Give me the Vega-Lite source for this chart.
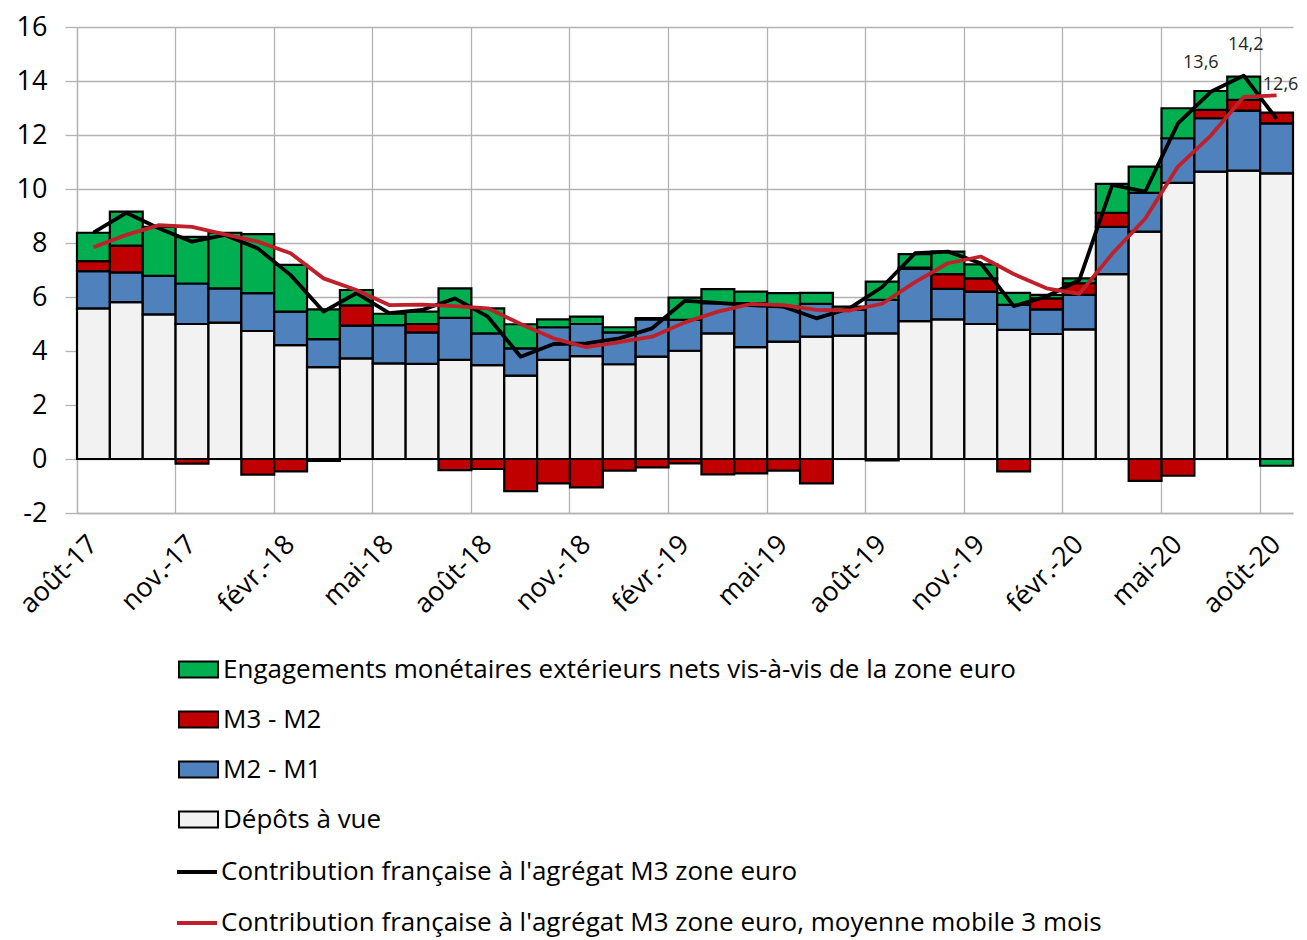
{
  "$schema": "https://vega.github.io/schema/vega-lite/v6.json",
  "width": 1216,
  "height": 486,
  "autosize": {"type": "none"},
  "padding": {"left": 77, "top": 27, "right": 14, "bottom": 427},
  "background": "white",
  "config": {
    "font": "Open Sans",
    "view": {"stroke": null},
    "axis": {"labelFont": "Open Sans", "labelColor": "black", "title": null}
  },
  "datasets": {
    "barres": [
      {"mois": "août-17", "serie": "Dépôts à vue", "valeur": 5.58},
      {"mois": "août-17", "serie": "M2 - M1", "valeur": 1.38},
      {"mois": "août-17", "serie": "M3 - M2", "valeur": 0.37},
      {"mois": "août-17", "serie": "Engagements monétaires extérieurs nets vis-à-vis de la zone euro", "valeur": 1.05},
      {"mois": "sept.-17", "serie": "Dépôts à vue", "valeur": 5.81},
      {"mois": "sept.-17", "serie": "M2 - M1", "valeur": 1.1},
      {"mois": "sept.-17", "serie": "M3 - M2", "valeur": 0.99},
      {"mois": "sept.-17", "serie": "Engagements monétaires extérieurs nets vis-à-vis de la zone euro", "valeur": 1.26},
      {"mois": "oct.-17", "serie": "Dépôts à vue", "valeur": 5.36},
      {"mois": "oct.-17", "serie": "M2 - M1", "valeur": 1.42},
      {"mois": "oct.-17", "serie": "Engagements monétaires extérieurs nets vis-à-vis de la zone euro", "valeur": 1.82},
      {"mois": "nov.-17", "serie": "Dépôts à vue", "valeur": 5.0},
      {"mois": "nov.-17", "serie": "M2 - M1", "valeur": 1.5},
      {"mois": "nov.-17", "serie": "M3 - M2", "valeur": -0.17},
      {"mois": "nov.-17", "serie": "Engagements monétaires extérieurs nets vis-à-vis de la zone euro", "valeur": 1.73},
      {"mois": "déc.-17", "serie": "Dépôts à vue", "valeur": 5.05},
      {"mois": "déc.-17", "serie": "M2 - M1", "valeur": 1.27},
      {"mois": "déc.-17", "serie": "Engagements monétaires extérieurs nets vis-à-vis de la zone euro", "valeur": 2.06},
      {"mois": "janv.-18", "serie": "Dépôts à vue", "valeur": 4.74},
      {"mois": "janv.-18", "serie": "M2 - M1", "valeur": 1.4},
      {"mois": "janv.-18", "serie": "M3 - M2", "valeur": -0.58},
      {"mois": "janv.-18", "serie": "Engagements monétaires extérieurs nets vis-à-vis de la zone euro", "valeur": 2.19},
      {"mois": "févr.-18", "serie": "Dépôts à vue", "valeur": 4.22},
      {"mois": "févr.-18", "serie": "M2 - M1", "valeur": 1.24},
      {"mois": "févr.-18", "serie": "M3 - M2", "valeur": -0.46},
      {"mois": "févr.-18", "serie": "Engagements monétaires extérieurs nets vis-à-vis de la zone euro", "valeur": 1.73},
      {"mois": "mars-18", "serie": "Dépôts à vue", "valeur": 3.4},
      {"mois": "mars-18", "serie": "M2 - M1", "valeur": 1.04},
      {"mois": "mars-18", "serie": "M3 - M2", "valeur": -0.07},
      {"mois": "mars-18", "serie": "Engagements monétaires extérieurs nets vis-à-vis de la zone euro", "valeur": 1.1},
      {"mois": "avr.-18", "serie": "Dépôts à vue", "valeur": 3.73},
      {"mois": "avr.-18", "serie": "M2 - M1", "valeur": 1.21},
      {"mois": "avr.-18", "serie": "M3 - M2", "valeur": 0.75},
      {"mois": "avr.-18", "serie": "Engagements monétaires extérieurs nets vis-à-vis de la zone euro", "valeur": 0.57},
      {"mois": "mai-18", "serie": "Dépôts à vue", "valeur": 3.54},
      {"mois": "mai-18", "serie": "M2 - M1", "valeur": 1.42},
      {"mois": "mai-18", "serie": "Engagements monétaires extérieurs nets vis-à-vis de la zone euro", "valeur": 0.42},
      {"mois": "juin-18", "serie": "Dépôts à vue", "valeur": 3.52},
      {"mois": "juin-18", "serie": "M2 - M1", "valeur": 1.17},
      {"mois": "juin-18", "serie": "M3 - M2", "valeur": 0.31},
      {"mois": "juin-18", "serie": "Engagements monétaires extérieurs nets vis-à-vis de la zone euro", "valeur": 0.46},
      {"mois": "juil.-18", "serie": "Dépôts à vue", "valeur": 3.67},
      {"mois": "juil.-18", "serie": "M2 - M1", "valeur": 1.56},
      {"mois": "juil.-18", "serie": "M3 - M2", "valeur": -0.41},
      {"mois": "juil.-18", "serie": "Engagements monétaires extérieurs nets vis-à-vis de la zone euro", "valeur": 1.09},
      {"mois": "août-18", "serie": "Dépôts à vue", "valeur": 3.48},
      {"mois": "août-18", "serie": "M2 - M1", "valeur": 1.17},
      {"mois": "août-18", "serie": "M3 - M2", "valeur": -0.37},
      {"mois": "août-18", "serie": "Engagements monétaires extérieurs nets vis-à-vis de la zone euro", "valeur": 0.93},
      {"mois": "sept.-18", "serie": "Dépôts à vue", "valeur": 3.09},
      {"mois": "sept.-18", "serie": "M2 - M1", "valeur": 1.01},
      {"mois": "sept.-18", "serie": "M3 - M2", "valeur": -1.19},
      {"mois": "sept.-18", "serie": "Engagements monétaires extérieurs nets vis-à-vis de la zone euro", "valeur": 0.89},
      {"mois": "oct.-18", "serie": "Dépôts à vue", "valeur": 3.67},
      {"mois": "oct.-18", "serie": "M2 - M1", "valeur": 1.21},
      {"mois": "oct.-18", "serie": "M3 - M2", "valeur": -0.9},
      {"mois": "oct.-18", "serie": "Engagements monétaires extérieurs nets vis-à-vis de la zone euro", "valeur": 0.29},
      {"mois": "nov.-18", "serie": "Dépôts à vue", "valeur": 3.81},
      {"mois": "nov.-18", "serie": "M2 - M1", "valeur": 1.19},
      {"mois": "nov.-18", "serie": "M3 - M2", "valeur": -1.05},
      {"mois": "nov.-18", "serie": "Engagements monétaires extérieurs nets vis-à-vis de la zone euro", "valeur": 0.27},
      {"mois": "déc.-18", "serie": "Dépôts à vue", "valeur": 3.51},
      {"mois": "déc.-18", "serie": "M2 - M1", "valeur": 1.18},
      {"mois": "déc.-18", "serie": "M3 - M2", "valeur": -0.43},
      {"mois": "déc.-18", "serie": "Engagements monétaires extérieurs nets vis-à-vis de la zone euro", "valeur": 0.19},
      {"mois": "janv.-19", "serie": "Dépôts à vue", "valeur": 3.79},
      {"mois": "janv.-19", "serie": "M2 - M1", "valeur": 1.38},
      {"mois": "janv.-19", "serie": "M3 - M2", "valeur": -0.31},
      {"mois": "janv.-19", "serie": "Engagements monétaires extérieurs nets vis-à-vis de la zone euro", "valeur": 0.05},
      {"mois": "févr.-19", "serie": "Dépôts à vue", "valeur": 4.01},
      {"mois": "févr.-19", "serie": "M2 - M1", "valeur": 1.14},
      {"mois": "févr.-19", "serie": "M3 - M2", "valeur": -0.16},
      {"mois": "févr.-19", "serie": "Engagements monétaires extérieurs nets vis-à-vis de la zone euro", "valeur": 0.83},
      {"mois": "mars-19", "serie": "Dépôts à vue", "valeur": 4.65},
      {"mois": "mars-19", "serie": "M2 - M1", "valeur": 1.12},
      {"mois": "mars-19", "serie": "M3 - M2", "valeur": -0.57},
      {"mois": "mars-19", "serie": "Engagements monétaires extérieurs nets vis-à-vis de la zone euro", "valeur": 0.52},
      {"mois": "avr.-19", "serie": "Dépôts à vue", "valeur": 4.14},
      {"mois": "avr.-19", "serie": "M2 - M1", "valeur": 1.63},
      {"mois": "avr.-19", "serie": "M3 - M2", "valeur": -0.53},
      {"mois": "avr.-19", "serie": "Engagements monétaires extérieurs nets vis-à-vis de la zone euro", "valeur": 0.43},
      {"mois": "mai-19", "serie": "Dépôts à vue", "valeur": 4.35},
      {"mois": "mai-19", "serie": "M2 - M1", "valeur": 1.29},
      {"mois": "mai-19", "serie": "M3 - M2", "valeur": -0.43},
      {"mois": "mai-19", "serie": "Engagements monétaires extérieurs nets vis-à-vis de la zone euro", "valeur": 0.5},
      {"mois": "juin-19", "serie": "Dépôts à vue", "valeur": 4.53},
      {"mois": "juin-19", "serie": "M2 - M1", "valeur": 1.22},
      {"mois": "juin-19", "serie": "M3 - M2", "valeur": -0.9},
      {"mois": "juin-19", "serie": "Engagements monétaires extérieurs nets vis-à-vis de la zone euro", "valeur": 0.4},
      {"mois": "juil.-19", "serie": "Dépôts à vue", "valeur": 4.57},
      {"mois": "juil.-19", "serie": "M2 - M1", "valeur": 0.95},
      {"mois": "juil.-19", "serie": "Engagements monétaires extérieurs nets vis-à-vis de la zone euro", "valeur": 0.12},
      {"mois": "août-19", "serie": "Dépôts à vue", "valeur": 4.65},
      {"mois": "août-19", "serie": "M2 - M1", "valeur": 1.24},
      {"mois": "août-19", "serie": "M3 - M2", "valeur": -0.05},
      {"mois": "août-19", "serie": "Engagements monétaires extérieurs nets vis-à-vis de la zone euro", "valeur": 0.68},
      {"mois": "sept.-19", "serie": "Dépôts à vue", "valeur": 5.11},
      {"mois": "sept.-19", "serie": "M2 - M1", "valeur": 1.93},
      {"mois": "sept.-19", "serie": "M3 - M2", "valeur": 0.05},
      {"mois": "sept.-19", "serie": "Engagements monétaires extérieurs nets vis-à-vis de la zone euro", "valeur": 0.5},
      {"mois": "oct.-19", "serie": "Dépôts à vue", "valeur": 5.17},
      {"mois": "oct.-19", "serie": "M2 - M1", "valeur": 1.13},
      {"mois": "oct.-19", "serie": "M3 - M2", "valeur": 0.55},
      {"mois": "oct.-19", "serie": "Engagements monétaires extérieurs nets vis-à-vis de la zone euro", "valeur": 0.83},
      {"mois": "nov.-19", "serie": "Dépôts à vue", "valeur": 5.0},
      {"mois": "nov.-19", "serie": "M2 - M1", "valeur": 1.2},
      {"mois": "nov.-19", "serie": "M3 - M2", "valeur": 0.49},
      {"mois": "nov.-19", "serie": "Engagements monétaires extérieurs nets vis-à-vis de la zone euro", "valeur": 0.52},
      {"mois": "déc.-19", "serie": "Dépôts à vue", "valeur": 4.78},
      {"mois": "déc.-19", "serie": "M2 - M1", "valeur": 0.93},
      {"mois": "déc.-19", "serie": "M3 - M2", "valeur": -0.46},
      {"mois": "déc.-19", "serie": "Engagements monétaires extérieurs nets vis-à-vis de la zone euro", "valeur": 0.44},
      {"mois": "janv.-20", "serie": "Dépôts à vue", "valeur": 4.63},
      {"mois": "janv.-20", "serie": "M2 - M1", "valeur": 0.91},
      {"mois": "janv.-20", "serie": "M3 - M2", "valeur": 0.41},
      {"mois": "janv.-20", "serie": "Engagements monétaires extérieurs nets vis-à-vis de la zone euro", "valeur": 0.13},
      {"mois": "févr.-20", "serie": "Dépôts à vue", "valeur": 4.8},
      {"mois": "févr.-20", "serie": "M2 - M1", "valeur": 1.28},
      {"mois": "févr.-20", "serie": "M3 - M2", "valeur": 0.43},
      {"mois": "févr.-20", "serie": "Engagements monétaires extérieurs nets vis-à-vis de la zone euro", "valeur": 0.18},
      {"mois": "mars-20", "serie": "Dépôts à vue", "valeur": 6.85},
      {"mois": "mars-20", "serie": "M2 - M1", "valeur": 1.75},
      {"mois": "mars-20", "serie": "M3 - M2", "valeur": 0.52},
      {"mois": "mars-20", "serie": "Engagements monétaires extérieurs nets vis-à-vis de la zone euro", "valeur": 1.07},
      {"mois": "avr.-20", "serie": "Dépôts à vue", "valeur": 8.42},
      {"mois": "avr.-20", "serie": "M2 - M1", "valeur": 1.44},
      {"mois": "avr.-20", "serie": "M3 - M2", "valeur": -0.81},
      {"mois": "avr.-20", "serie": "Engagements monétaires extérieurs nets vis-à-vis de la zone euro", "valeur": 0.97},
      {"mois": "mai-20", "serie": "Dépôts à vue", "valeur": 10.23},
      {"mois": "mai-20", "serie": "M2 - M1", "valeur": 1.65},
      {"mois": "mai-20", "serie": "M3 - M2", "valeur": -0.62},
      {"mois": "mai-20", "serie": "Engagements monétaires extérieurs nets vis-à-vis de la zone euro", "valeur": 1.11},
      {"mois": "juin-20", "serie": "Dépôts à vue", "valeur": 10.64},
      {"mois": "juin-20", "serie": "M2 - M1", "valeur": 1.98},
      {"mois": "juin-20", "serie": "M3 - M2", "valeur": 0.31},
      {"mois": "juin-20", "serie": "Engagements monétaires extérieurs nets vis-à-vis de la zone euro", "valeur": 0.7},
      {"mois": "juil.-20", "serie": "Dépôts à vue", "valeur": 10.68},
      {"mois": "juil.-20", "serie": "M2 - M1", "valeur": 2.22},
      {"mois": "juil.-20", "serie": "M3 - M2", "valeur": 0.4},
      {"mois": "juil.-20", "serie": "Engagements monétaires extérieurs nets vis-à-vis de la zone euro", "valeur": 0.86},
      {"mois": "août-20", "serie": "Dépôts à vue", "valeur": 10.58},
      {"mois": "août-20", "serie": "M2 - M1", "valeur": 1.85},
      {"mois": "août-20", "serie": "M3 - M2", "valeur": 0.4},
      {"mois": "août-20", "serie": "Engagements monétaires extérieurs nets vis-à-vis de la zone euro", "valeur": -0.25}
    ],
    "lignes": [
      {"mois": "août-17", "serie": "Contribution française à l'agrégat M3 zone euro", "valeur": 8.38},
      {"mois": "sept.-17", "serie": "Contribution française à l'agrégat M3 zone euro", "valeur": 9.12},
      {"mois": "oct.-17", "serie": "Contribution française à l'agrégat M3 zone euro", "valeur": 8.54},
      {"mois": "nov.-17", "serie": "Contribution française à l'agrégat M3 zone euro", "valeur": 8.05},
      {"mois": "déc.-17", "serie": "Contribution française à l'agrégat M3 zone euro", "valeur": 8.3},
      {"mois": "janv.-18", "serie": "Contribution française à l'agrégat M3 zone euro", "valeur": 7.8},
      {"mois": "févr.-18", "serie": "Contribution française à l'agrégat M3 zone euro", "valeur": 6.81},
      {"mois": "mars-18", "serie": "Contribution française à l'agrégat M3 zone euro", "valeur": 5.46},
      {"mois": "avr.-18", "serie": "Contribution française à l'agrégat M3 zone euro", "valeur": 6.14},
      {"mois": "mai-18", "serie": "Contribution française à l'agrégat M3 zone euro", "valeur": 5.4},
      {"mois": "juin-18", "serie": "Contribution française à l'agrégat M3 zone euro", "valeur": 5.52},
      {"mois": "juil.-18", "serie": "Contribution française à l'agrégat M3 zone euro", "valeur": 5.95},
      {"mois": "août-18", "serie": "Contribution française à l'agrégat M3 zone euro", "valeur": 5.27},
      {"mois": "sept.-18", "serie": "Contribution française à l'agrégat M3 zone euro", "valeur": 3.79},
      {"mois": "oct.-18", "serie": "Contribution française à l'agrégat M3 zone euro", "valeur": 4.26},
      {"mois": "nov.-18", "serie": "Contribution française à l'agrégat M3 zone euro", "valeur": 4.28},
      {"mois": "déc.-18", "serie": "Contribution française à l'agrégat M3 zone euro", "valeur": 4.47},
      {"mois": "janv.-19", "serie": "Contribution française à l'agrégat M3 zone euro", "valeur": 4.84},
      {"mois": "févr.-19", "serie": "Contribution française à l'agrégat M3 zone euro", "valeur": 5.86},
      {"mois": "mars-19", "serie": "Contribution française à l'agrégat M3 zone euro", "valeur": 5.78},
      {"mois": "avr.-19", "serie": "Contribution française à l'agrégat M3 zone euro", "valeur": 5.7},
      {"mois": "mai-19", "serie": "Contribution française à l'agrégat M3 zone euro", "valeur": 5.64},
      {"mois": "juin-19", "serie": "Contribution française à l'agrégat M3 zone euro", "valeur": 5.21},
      {"mois": "juil.-19", "serie": "Contribution française à l'agrégat M3 zone euro", "valeur": 5.58},
      {"mois": "août-19", "serie": "Contribution française à l'agrégat M3 zone euro", "valeur": 6.37},
      {"mois": "sept.-19", "serie": "Contribution française à l'agrégat M3 zone euro", "valeur": 7.62},
      {"mois": "oct.-19", "serie": "Contribution française à l'agrégat M3 zone euro", "valeur": 7.68},
      {"mois": "nov.-19", "serie": "Contribution française à l'agrégat M3 zone euro", "valeur": 7.25},
      {"mois": "déc.-19", "serie": "Contribution française à l'agrégat M3 zone euro", "valeur": 5.66},
      {"mois": "janv.-20", "serie": "Contribution française à l'agrégat M3 zone euro", "valeur": 6.02},
      {"mois": "févr.-20", "serie": "Contribution française à l'agrégat M3 zone euro", "valeur": 6.63},
      {"mois": "mars-20", "serie": "Contribution française à l'agrégat M3 zone euro", "valeur": 10.15},
      {"mois": "avr.-20", "serie": "Contribution française à l'agrégat M3 zone euro", "valeur": 9.9},
      {"mois": "mai-20", "serie": "Contribution française à l'agrégat M3 zone euro", "valeur": 12.43},
      {"mois": "juin-20", "serie": "Contribution française à l'agrégat M3 zone euro", "valeur": 13.6, "etiquette": "13,6"},
      {"mois": "juil.-20", "serie": "Contribution française à l'agrégat M3 zone euro", "valeur": 14.2, "etiquette": "14,2"},
      {"mois": "août-20", "serie": "Contribution française à l'agrégat M3 zone euro", "valeur": 12.6, "etiquette": "12,6"},
      {"mois": "août-17", "serie": "Contribution française à l'agrégat M3 zone euro, moyenne mobile 3 mois", "valeur": 7.84},
      {"mois": "sept.-17", "serie": "Contribution française à l'agrégat M3 zone euro, moyenne mobile 3 mois", "valeur": 8.3},
      {"mois": "oct.-17", "serie": "Contribution française à l'agrégat M3 zone euro, moyenne mobile 3 mois", "valeur": 8.66},
      {"mois": "nov.-17", "serie": "Contribution française à l'agrégat M3 zone euro, moyenne mobile 3 mois", "valeur": 8.6},
      {"mois": "déc.-17", "serie": "Contribution française à l'agrégat M3 zone euro, moyenne mobile 3 mois", "valeur": 8.32},
      {"mois": "janv.-18", "serie": "Contribution française à l'agrégat M3 zone euro, moyenne mobile 3 mois", "valeur": 8.05},
      {"mois": "févr.-18", "serie": "Contribution française à l'agrégat M3 zone euro, moyenne mobile 3 mois", "valeur": 7.62},
      {"mois": "mars-18", "serie": "Contribution française à l'agrégat M3 zone euro, moyenne mobile 3 mois", "valeur": 6.69},
      {"mois": "avr.-18", "serie": "Contribution française à l'agrégat M3 zone euro, moyenne mobile 3 mois", "valeur": 6.26},
      {"mois": "mai-18", "serie": "Contribution française à l'agrégat M3 zone euro, moyenne mobile 3 mois", "valeur": 5.7},
      {"mois": "juin-18", "serie": "Contribution française à l'agrégat M3 zone euro, moyenne mobile 3 mois", "valeur": 5.72},
      {"mois": "juil.-18", "serie": "Contribution française à l'agrégat M3 zone euro, moyenne mobile 3 mois", "valeur": 5.66},
      {"mois": "août-18", "serie": "Contribution française à l'agrégat M3 zone euro, moyenne mobile 3 mois", "valeur": 5.58},
      {"mois": "sept.-18", "serie": "Contribution française à l'agrégat M3 zone euro, moyenne mobile 3 mois", "valeur": 5.0},
      {"mois": "oct.-18", "serie": "Contribution française à l'agrégat M3 zone euro, moyenne mobile 3 mois", "valeur": 4.47},
      {"mois": "nov.-18", "serie": "Contribution française à l'agrégat M3 zone euro, moyenne mobile 3 mois", "valeur": 4.14},
      {"mois": "déc.-18", "serie": "Contribution française à l'agrégat M3 zone euro, moyenne mobile 3 mois", "valeur": 4.33},
      {"mois": "janv.-19", "serie": "Contribution française à l'agrégat M3 zone euro, moyenne mobile 3 mois", "valeur": 4.53},
      {"mois": "févr.-19", "serie": "Contribution française à l'agrégat M3 zone euro, moyenne mobile 3 mois", "valeur": 5.06},
      {"mois": "mars-19", "serie": "Contribution française à l'agrégat M3 zone euro, moyenne mobile 3 mois", "valeur": 5.46},
      {"mois": "avr.-19", "serie": "Contribution française à l'agrégat M3 zone euro, moyenne mobile 3 mois", "valeur": 5.74},
      {"mois": "mai-19", "serie": "Contribution française à l'agrégat M3 zone euro, moyenne mobile 3 mois", "valeur": 5.7},
      {"mois": "juin-19", "serie": "Contribution française à l'agrégat M3 zone euro, moyenne mobile 3 mois", "valeur": 5.52},
      {"mois": "juil.-19", "serie": "Contribution française à l'agrégat M3 zone euro, moyenne mobile 3 mois", "valeur": 5.5},
      {"mois": "août-19", "serie": "Contribution française à l'agrégat M3 zone euro, moyenne mobile 3 mois", "valeur": 5.75},
      {"mois": "sept.-19", "serie": "Contribution française à l'agrégat M3 zone euro, moyenne mobile 3 mois", "valeur": 6.55},
      {"mois": "oct.-19", "serie": "Contribution française à l'agrégat M3 zone euro, moyenne mobile 3 mois", "valeur": 7.25},
      {"mois": "nov.-19", "serie": "Contribution française à l'agrégat M3 zone euro, moyenne mobile 3 mois", "valeur": 7.5},
      {"mois": "déc.-19", "serie": "Contribution française à l'agrégat M3 zone euro, moyenne mobile 3 mois", "valeur": 6.85},
      {"mois": "janv.-20", "serie": "Contribution française à l'agrégat M3 zone euro, moyenne mobile 3 mois", "valeur": 6.32},
      {"mois": "févr.-20", "serie": "Contribution française à l'agrégat M3 zone euro, moyenne mobile 3 mois", "valeur": 6.12},
      {"mois": "mars-20", "serie": "Contribution française à l'agrégat M3 zone euro, moyenne mobile 3 mois", "valeur": 7.6},
      {"mois": "avr.-20", "serie": "Contribution française à l'agrégat M3 zone euro, moyenne mobile 3 mois", "valeur": 8.9},
      {"mois": "mai-20", "serie": "Contribution française à l'agrégat M3 zone euro, moyenne mobile 3 mois", "valeur": 10.83},
      {"mois": "juin-20", "serie": "Contribution française à l'agrégat M3 zone euro, moyenne mobile 3 mois", "valeur": 11.98},
      {"mois": "juil.-20", "serie": "Contribution française à l'agrégat M3 zone euro, moyenne mobile 3 mois", "valeur": 13.41},
      {"mois": "août-20", "serie": "Contribution française à l'agrégat M3 zone euro, moyenne mobile 3 mois", "valeur": 13.47}
    ]
  },
  "encoding": {
    "x": {
      "field": "mois",
      "type": "ordinal",
      "scale": {
        "domain": ["août-17", "sept.-17", "oct.-17", "nov.-17", "déc.-17", "janv.-18", "févr.-18", "mars-18", "avr.-18", "mai-18", "juin-18", "juil.-18", "août-18", "sept.-18", "oct.-18", "nov.-18", "déc.-18", "janv.-19", "févr.-19", "mars-19", "avr.-19", "mai-19", "juin-19", "juil.-19", "août-19", "sept.-19", "oct.-19", "nov.-19", "déc.-19", "janv.-20", "févr.-20", "mars-20", "avr.-20", "mai-20", "juin-20", "juil.-20", "août-20"],
        "paddingInner": 0,
        "paddingOuter": 0
      },
      "axis": {
        "values": ["août-17", "nov.-17", "févr.-18", "mai-18", "août-18", "nov.-18", "févr.-19", "mai-19", "août-19", "nov.-19", "févr.-20", "mai-20", "août-20"],
        "bandPosition": 0,
        "grid": true,
        "gridColor": "#b3b3b3",
        "gridWidth": 1.3,
        "ticks": false,
        "domain": true,
        "domainColor": "#b3b3b3",
        "domainWidth": 1.3,
        "labelAngle": -45,
        "labelAlign": "right",
        "labelBaseline": "middle",
        "labelFontSize": 27,
        "labelPadding": 27,
        "title": null
      }
    }
  },
  "layer": [
    {
      "data": {"name": "barres"},
      "mark": {"type": "rule", "color": "#8c8c8c", "strokeWidth": 1.5},
      "encoding": {"x": null, "y": {"datum": 0, "type": "quantitative"}}
    },
    {
      "data": {"name": "barres"},
      "transform": [
        {"calculate": "indexof(['Dépôts à vue', 'M2 - M1', 'M3 - M2', 'Engagements monétaires extérieurs nets vis-à-vis de la zone euro'], datum.serie)", "as": "rang"}
      ],
      "mark": {"type": "bar", "stroke": "black", "strokeWidth": 2.2, "strokeJoin": "miter"},
      "encoding": {
        "y": {
          "field": "valeur",
          "type": "quantitative",
          "stack": "zero",
          "scale": {"domain": [-2, 16], "nice": false},
          "axis": {
            "values": [-2, 0, 2, 4, 6, 8, 10, 12, 14, 16],
            "labelExpr": "datum.value",
            "grid": true,
            "gridColor": "#b3b3b3",
            "gridWidth": 1.3,
            "domainColor": "#b3b3b3",
            "domainWidth": 1.3,
            "tickColor": "#b3b3b3",
            "tickWidth": 1.3,
            "tickSize": 12,
            "labelFontSize": 27,
            "labelPadding": 18,
            "title": null
          }
        },
        "order": {"field": "rang", "type": "quantitative", "sort": "ascending"},
        "color": {
          "field": "serie",
          "type": "nominal",
          "scale": {
            "domain": ["Engagements monétaires extérieurs nets vis-à-vis de la zone euro", "M3 - M2", "M2 - M1", "Dépôts à vue"],
            "range": ["#00b050", "#c00000", "#4f81bd", "#f2f2f2"]
          },
          "legend": {
            "orient": "none",
            "legendX": 101,
            "legendY": 622,
            "title": null,
            "direction": "vertical",
            "symbolType": "M-1,-0.41H1V0.41H-1Z",
            "symbolSize": 1521,
            "symbolStrokeColor": "black",
            "symbolStrokeWidth": 2,
            "symbolOpacity": 1,
            "labelFontSize": 26,
            "labelFont": "Open Sans",
            "labelColor": "black",
            "labelOffset": 4,
            "labelLimit": 0,
            "rowPadding": 16
          }
        }
      }
    },
    {
      "data": {"name": "lignes"},
      "mark": {"type": "line", "strokeWidth": 3.8, "strokeJoin": "round"},
      "encoding": {
        "y": {"field": "valeur", "type": "quantitative"},
        "stroke": {
          "field": "serie",
          "type": "nominal",
          "scale": {
            "domain": ["Contribution française à l'agrégat M3 zone euro", "Contribution française à l'agrégat M3 zone euro, moyenne mobile 3 mois"],
            "range": ["#000000", "#c0202a"]
          },
          "legend": {
            "orient": "none",
            "legendX": 98,
            "legendY": 823,
            "title": null,
            "direction": "vertical",
            "symbolType": "stroke",
            "symbolSize": 1600,
            "symbolStrokeWidth": 3.8,
            "labelFontSize": 26,
            "labelFont": "Open Sans",
            "labelColor": "black",
            "labelOffset": 2,
            "labelLimit": 0,
            "rowPadding": 16
          }
        }
      }
    },
    {
      "data": {"name": "lignes"},
      "transform": [{"filter": "datum.mois === 'juin-20' && datum.etiquette"}],
      "mark": {"type": "text", "fontSize": 18, "color": "#262626", "dx": -10, "dy": -29},
      "encoding": {"y": {"field": "valeur", "type": "quantitative"}, "text": {"field": "etiquette"}}
    },
    {
      "data": {"name": "lignes"},
      "transform": [{"filter": "datum.mois === 'juil.-20' && datum.etiquette"}],
      "mark": {"type": "text", "fontSize": 18, "color": "#262626", "dx": 2, "dy": -31},
      "encoding": {"y": {"field": "valeur", "type": "quantitative"}, "text": {"field": "etiquette"}}
    },
    {
      "data": {"name": "lignes"},
      "transform": [{"filter": "datum.mois === 'août-20' && datum.etiquette"}],
      "mark": {"type": "text", "fontSize": 18, "color": "#262626", "dx": 4, "dy": -34},
      "encoding": {"y": {"field": "valeur", "type": "quantitative"}, "text": {"field": "etiquette"}}
    }
  ]
}
